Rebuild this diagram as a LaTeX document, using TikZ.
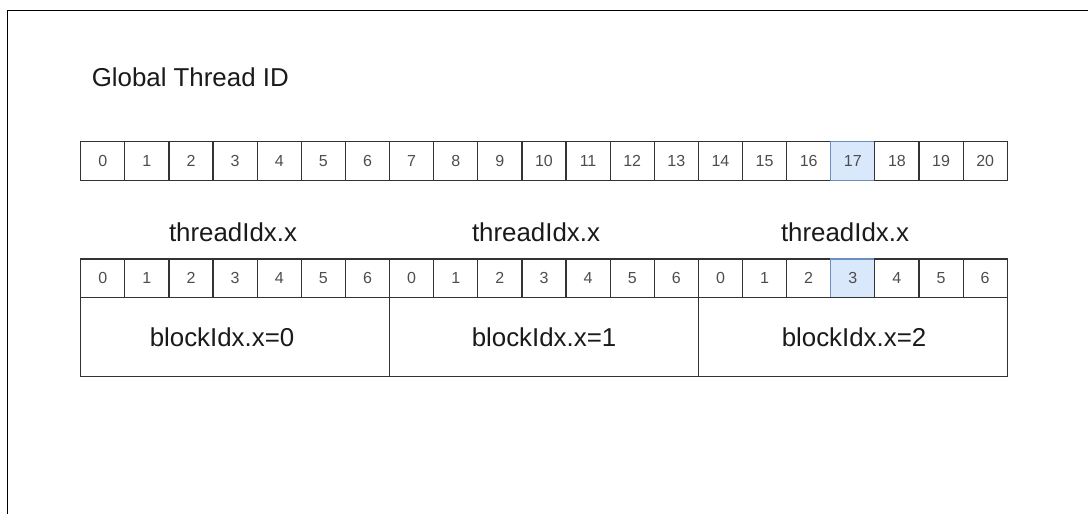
\documentclass[tikz,border=0pt]{standalone}
\usepackage{fontspec}
\setmainfont{Liberation Sans}
\usepackage{xcolor}
\usetikzlibrary{positioning}
\definecolor{cellborder}{HTML}{333333}
\definecolor{cellnum}{HTML}{4D4D4D}
\definecolor{labeltext}{HTML}{1A1A1A}
\definecolor{hlblue}{HTML}{DAE8FC}
\definecolor{hlborder}{HTML}{6C8EBF}

\tikzset{
  cellbox/.style={draw=cellborder, line width=0.9pt, inner sep=0pt,
    minimum width=33.09pt, minimum height=29.6pt, text=cellnum,
    font=\fontsize{12}{14}\selectfont},
  hlcell/.style={fill=hlblue, draw=hlborder},
  cell17/.style={hlcell},
  blockbox/.style={draw=cellborder, line width=0.9pt, inner sep=0pt,
    minimum width=231.63pt, minimum height=59.25pt},
  biglabel/.style={text=labeltext, inner sep=0pt, anchor=base,
    font=\fontsize{19.4}{23}\selectfont}
}

\begin{document}
\begin{tikzpicture}[x=0.75pt, y=-0.75pt]
  \useasboundingbox (0,0) rectangle (1088,514);
  % page frame
  \draw[line width=1.1pt] (7.5,514) -- (7.5,10.5) -- (1088,10.5);

  \node[biglabel, anchor=base west] (title) at (91.5,86) {Global Thread ID};

  % global ids
  \foreach \i in {0,...,20}{
    \node[cellbox, cell\i/.try] (g\i) at ({80.7+44.12*(\i+0.5)},160.85) {\i};
  }

  % local ids per block
  \foreach \i in {0,...,20}{
    \pgfmathtruncatemacro\loc{mod(\i,7)}
    \node[cellbox, minimum height=29.0pt, cell\i/.try] (t\i) at ({80.7+44.12*(\i+0.5)},278.35) {\loc};
  }

  % blocks
  \foreach \b in {0,1,2}{
    \node[blockbox] (b\b) at ({80.7+308.84*(\b+0.5)},337.2) {};
  }
  \node[biglabel] (lb0) at (222,346) {blockIdx.x=0};
  \node[biglabel] (lb1) at (544,346) {blockIdx.x=1};
  \node[biglabel] (lb2) at (854,346) {blockIdx.x=2};

  \node[biglabel] (th0) at (233,241) {threadIdx.x};
  \node[biglabel] (th1) at (536,241) {threadIdx.x};
  \node[biglabel] (th2) at (845,241) {threadIdx.x};
\end{tikzpicture}
\end{document}
